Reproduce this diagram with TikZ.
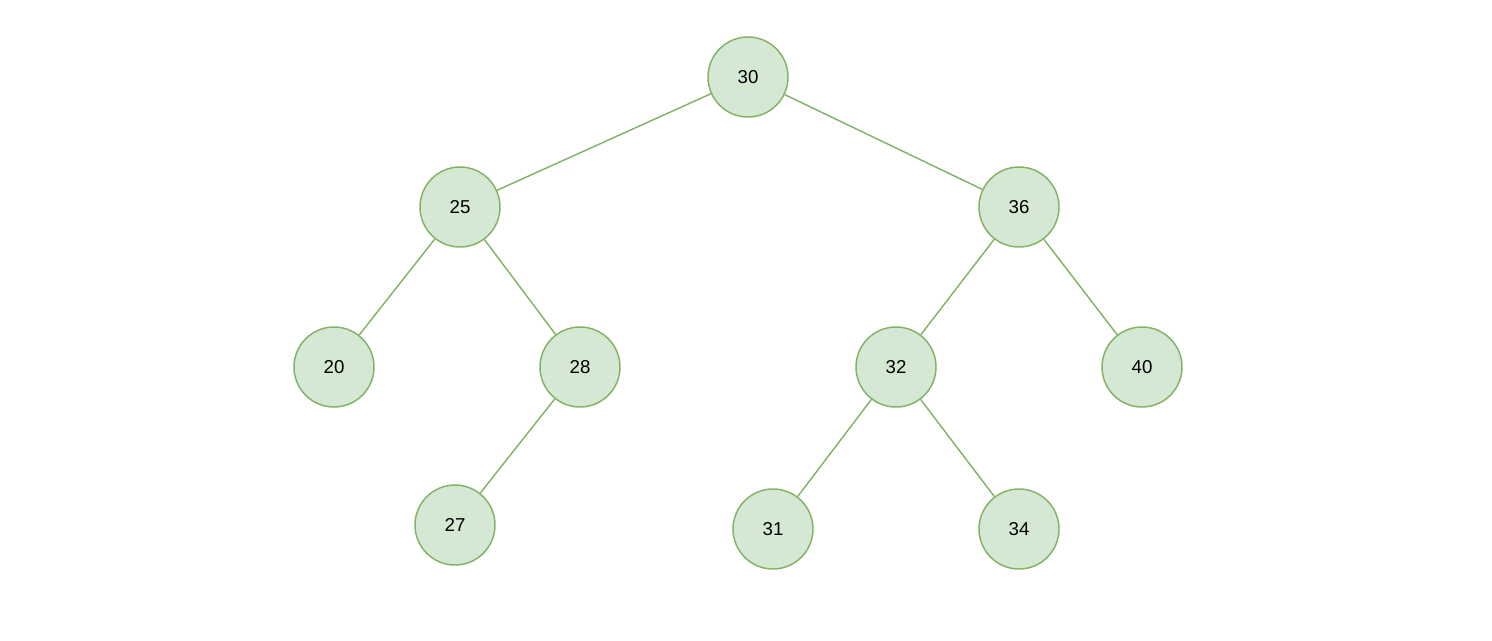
\documentclass[tikz,border=0pt]{standalone}
\usepackage{fontspec}
\setmainfont{Liberation Sans}
\definecolor{nfill}{HTML}{D5E8D4}
\definecolor{nline}{HTML}{82B366}
\begin{document}
\begin{tikzpicture}[x=0.75pt,y=-0.75pt,
  tn/.style={circle,draw=nline,fill=nfill,line width=1.1pt,minimum size=60pt,inner sep=0pt,font=\fontsize{14}{16}\selectfont},
  ed/.style={draw=nline,line width=1.1pt}]
\useasboundingbox (0,0) rectangle (1492,640);
\node[tn] (n30) at (748,77) {30};
\node[tn] (n25) at (460,207) {25};
\node[tn] (n36) at (1019,207) {36};
\node[tn] (n20) at (334,367) {20};
\node[tn] (n28) at (580,367) {28};
\node[tn] (n32) at (896,367) {32};
\node[tn] (n40) at (1142,367) {40};
\node[tn] (n27) at (455,525) {27};
\node[tn] (n31) at (773,529) {31};
\node[tn] (n34) at (1019,529) {34};
\draw[ed] (n30) -- (n25);
\draw[ed] (n30) -- (n36);
\draw[ed] (n25) -- (n20);
\draw[ed] (n25) -- (n28);
\draw[ed] (n28) -- (n27);
\draw[ed] (n36) -- (n32);
\draw[ed] (n36) -- (n40);
\draw[ed] (n32) -- (n31);
\draw[ed] (n32) -- (n34);
\end{tikzpicture}
\end{document}
